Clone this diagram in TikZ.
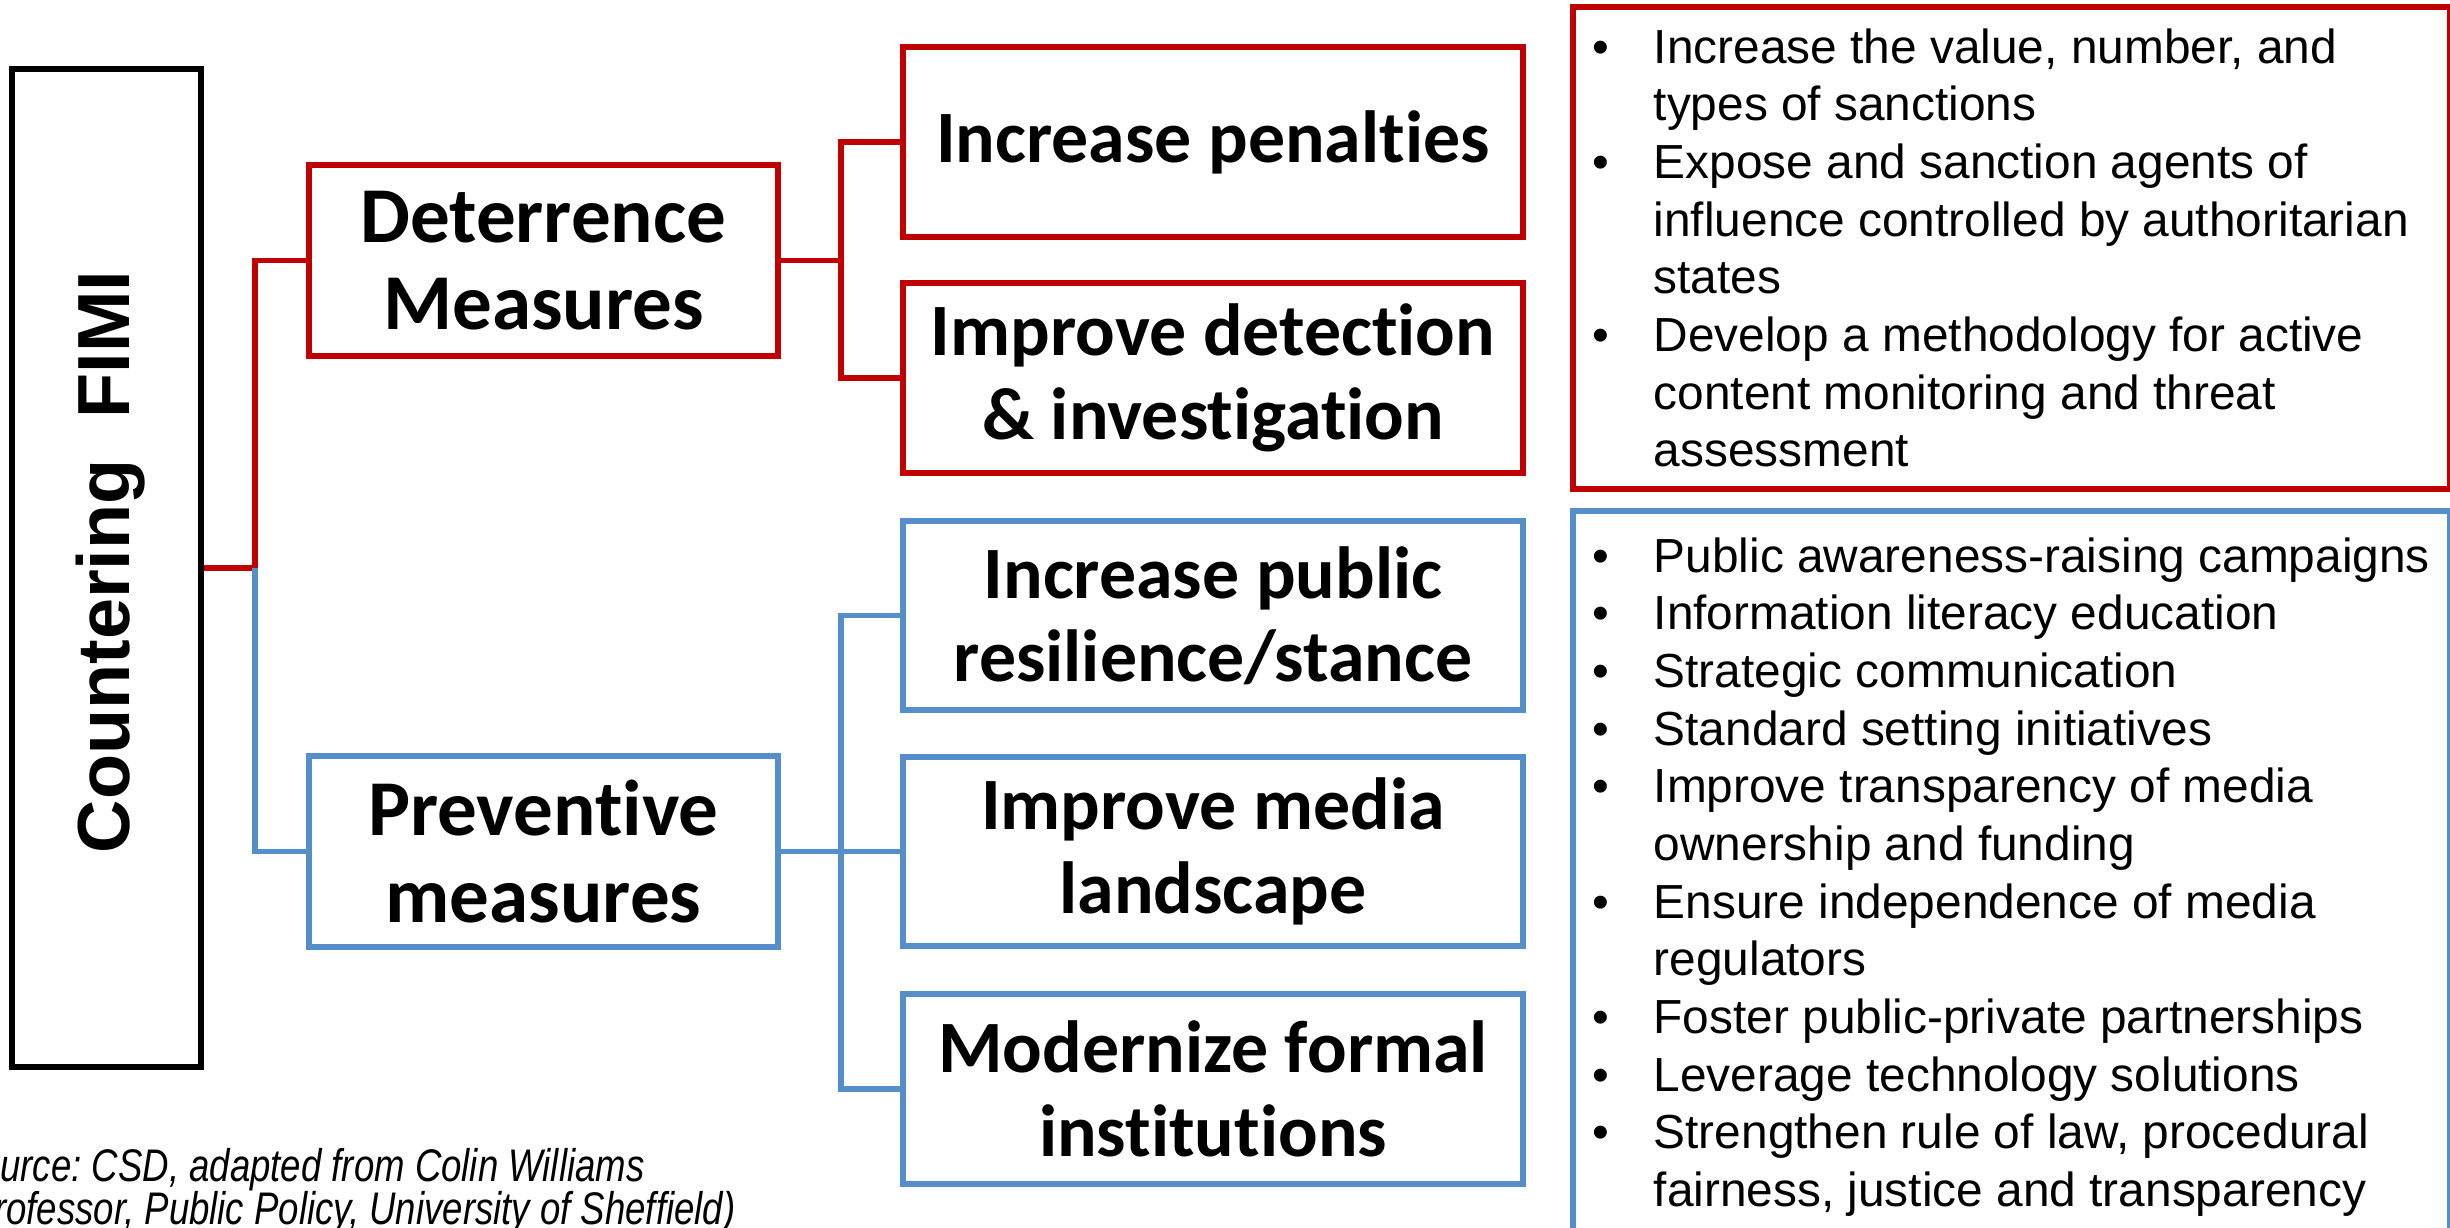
\documentclass[tikz,border=0pt]{standalone}
\usepackage{fontspec}
\setmainfont{Liberation Sans}
\newfontfamily\boxfont{Carlito}[Ligatures=NoCommon]
\newfontfamily\narrowfont[FakeStretch=0.80]{Liberation Sans}
\definecolor{fimired}{RGB}{192,0,0}
\definecolor{fimiblue}{RGB}{85,142,200}
\tikzset{
  rootbox/.style={draw=black, line width=1.8pt, inner sep=0pt},
  rootlabel/.style={inner sep=0pt, font=\bfseries\fontsize{21}{25}\selectfont},
  catbox/.style={line width=1.7pt, inner sep=0pt, align=center},
  redbox/.style={catbox, draw=fimired},
  bluebox/.style={catbox, draw=fimiblue},
  midsize/.style={minimum width=4.69cm, minimum height=1.91cm,
    font=\boxfont\bfseries\fontsize{22.5}{24.8}\selectfont},
  leafsize/.style={minimum width=6.2cm, minimum height=1.89cm,
    font=\boxfont\bfseries\fontsize{21}{23.7}\selectfont},
  redline/.style={draw=fimired, line width=1.7pt, line join=miter},
  blueline/.style={draw=fimiblue, line width=1.7pt, line join=miter},
  listtext/.style={anchor=north west, inner sep=0pt,
    font=\fontsize{13.6}{16.4}\selectfont},
  srctext/.style={anchor=base west, inner sep=0pt,
    font=\narrowfont\itshape\frenchspacing\fontsize{13}{12.2}\selectfont},
}
\begin{document}
\begin{tikzpicture}[x=0.01cm,y=-0.01cm]
\useasboundingbox (0,0) rectangle (2450,1228);
\clip (0,0) rectangle (2450,1228);
\fill[white] (0,0) rectangle (2450,1228);

% root
\node[rootbox, minimum width=1.89cm, minimum height=9.98cm]
  (fimi) at (106.5,568) {};
\node[rootlabel, rotate=90] (fimilabel) at (111,562) {Countering\ \ FIMI};

% categories
\node[redbox, midsize] (det) at (543.5,260.5) {Deterrence\\Measures};
\node[bluebox, midsize] (prev) at (543.5,851.5) {Preventive\\measures};

% leaves
\node[redbox, leafsize] (pen) at (1213,142) {Increase penalties};
\node[redbox, leafsize] (detc) at (1213,378) {Improve detection\\\& investigation};
\node[bluebox, leafsize] (pub) at (1213,615.5) {Increase public\\resilience/stance};
\node[bluebox, leafsize] (med) at (1213,851.5) {Improve media\\landscape};
\node[bluebox, leafsize] (mod) at (1213,1089) {Modernize formal\\institutions};

% junctions
\coordinate (j1) at (255,568);
\coordinate (j2) at (841,260.5);
\coordinate (j3) at (841,851.5);

% connectors
\draw[redline] (fimi.east) -- (j1) |- (det.west);
\draw[blueline] (j1) |- (prev.west);
\draw[redline] (det.east) -- (j2);
\draw[redline] (j2) |- (pen.west);
\draw[redline] (j2) |- (detc.west);
\draw[blueline] (prev.east) -- (j3);
\draw[blueline] (j3) |- (pub.west);
\draw[blueline] (j3) -- (med.west);
\draw[blueline] (j3) |- (mod.west);

% list boxes
\node[draw=fimired, line width=1.7pt, minimum width=8.77cm, minimum height=4.82cm, inner sep=0pt]
  (redlist) at (2011.5,248) {};
\node[draw=fimiblue, line width=1.7pt, minimum width=8.77cm, minimum height=7.49cm, inner sep=0pt]
  (bluelist) at (2011.5,885.5) {};

\node[listtext] (redtext) at (1592,22) {%
\begin{tabular}{@{}p{0.61cm}@{}l@{}}
\textbullet & Increase the value, number, and\\
 & types of sanctions\\
\textbullet & Expose and sanction agents of\\
 & influence controlled by authoritarian\\
 & states\\
\textbullet & Develop a methodology for active\\
 & content monitoring and threat\\
 & assessment
\end{tabular}};

\node[listtext] (bluetext) at (1592,531) {%
\begin{tabular}{@{}p{0.61cm}@{}l@{}}
\textbullet & Public awareness-raising campaigns\\
\textbullet & Information literacy education\\
\textbullet & Strategic communication\\
\textbullet & Standard setting initiatives\\
\textbullet & Improve transparency of media\\
 & ownership and funding\\
\textbullet & Ensure independence of media\\
 & regulators\\
\textbullet & Foster public-private partnerships\\
\textbullet & Leverage technology solutions\\
\textbullet & Strengthen rule of law, procedural\\
 & fairness, justice and transparency
\end{tabular}};

% source
\node[srctext] (src1) at (-45,1182) {Source: CSD, adapted from Colin Williams};
\node[srctext] (src2) at (-43,1225) {(Professor, Public Policy, University of Sheffield)};
\end{tikzpicture}
\end{document}
